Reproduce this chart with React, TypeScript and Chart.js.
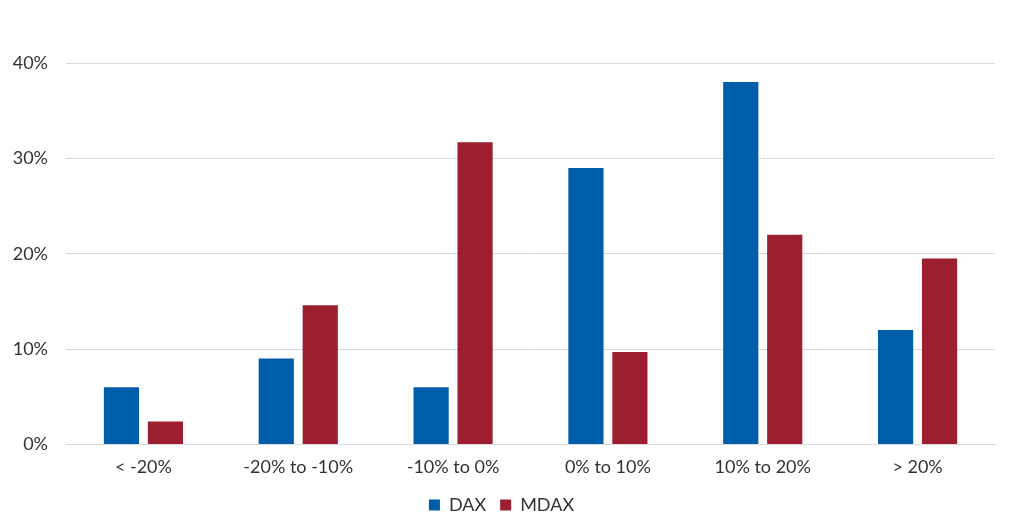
import React, { useEffect, useRef } from "react";
import { Chart, registerables } from "chart.js";

Chart.register(...registerables);

const categories = ["< -20%", "-20% to -10%", "-10% to 0%", "0% to 10%", "10% to 20%", "> 20%"];
const daxValues = [6, 9, 6, 29, 38, 12];
const mdaxValues = [2.4, 14.6, 31.7, 9.7, 22, 19.5];
const yTicks = [0, 10, 20, 30, 40];

const FONT = "Lato, 'Open Sans', sans-serif";

export default function App() {
  const ref = useRef<HTMLCanvasElement>(null);
  useEffect(() => {
    if (!ref.current) return;
    const chart = new Chart(ref.current, {
      type: "bar",
      data: {
        labels: categories,
        datasets: [
          { label: "DAX", data: daxValues, backgroundColor: "#005DAA", categoryPercentage: 0.568, barPercentage: 0.8 },
          { label: "MDAX", data: mdaxValues, backgroundColor: "#9B1F2E", categoryPercentage: 0.568, barPercentage: 0.8 },
        ],
      },
      options: {
        animation: false,
        responsive: true,
        maintainAspectRatio: false,
        layout: { padding: { top: 55, right: 12, left: 0, bottom: 0 } },
        plugins: {
          legend: {
            position: "bottom",
            labels: {
              boxWidth: 11,
              boxHeight: 11,
              padding: 14,
              color: "#333",
              font: { family: FONT, size: 18 },
            },
          },
          tooltip: { enabled: false },
        },
        scales: {
          x: {
            grid: { display: false },
            border: { display: true, color: "#d9d9d9" },
            ticks: { color: "#333", font: { family: FONT, size: 18 }, padding: 4 },
          },
          y: {
            min: 0,
            max: 40,
            afterBuildTicks: (axis: any) => {
              axis.ticks = yTicks.map((v) => ({ value: v }));
            },
            afterFit: (axis: any) => {
              axis.width = 58;
            },
            grid: { color: "#d9d9d9", drawTicks: false },
            border: { display: false },
            ticks: {
              color: "#333",
              font: { family: FONT, size: 18 },
              padding: 18,
              callback: (v: any) => v + "%",
            },
          },
        },
      },
    });
    return () => chart.destroy();
  }, []);
  return (
    <div style={{ width: 999, height: 516, position: "relative" }}>
      <canvas ref={ref} />
    </div>
  );
}
